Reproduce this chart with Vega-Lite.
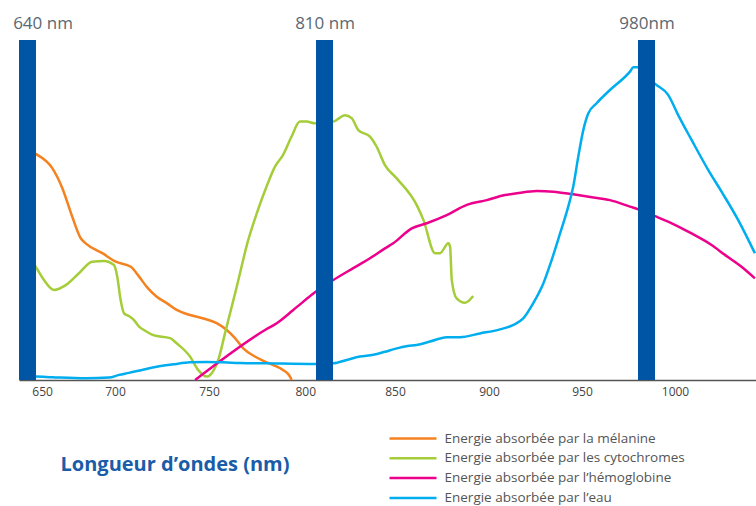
{
  "$schema": "https://vega.github.io/schema/vega-lite/v6.json",
  "width": 737,
  "height": 340,
  "autosize": {"type": "none"},
  "padding": {"left": 19, "top": 40, "right": 0, "bottom": 126},
  "background": "white",
  "config": {"view": {"stroke": null}, "font": "Open Sans"},
  "layer": [
    {
      "data": {
        "values": [
          {"serie": "la mélanine", "nm": 641, "val": 67.5},
          {"serie": "la mélanine", "nm": 645.6, "val": 66.5},
          {"serie": "la mélanine", "nm": 657, "val": 62.3},
          {"serie": "la mélanine", "nm": 663.9, "val": 56.4},
          {"serie": "la mélanine", "nm": 670.7, "val": 48.0},
          {"serie": "la mélanine", "nm": 676.5, "val": 41.7},
          {"serie": "la mélanine", "nm": 679.9, "val": 40.2},
          {"serie": "la mélanine", "nm": 691.3, "val": 37.3},
          {"serie": "la mélanine", "nm": 700.4, "val": 34.8},
          {"serie": "la mélanine", "nm": 708.4, "val": 33.3},
          {"serie": "la mélanine", "nm": 712.8, "val": 30.4},
          {"serie": "la mélanine", "nm": 716.9, "val": 27.4},
          {"serie": "la mélanine", "nm": 722.2, "val": 24.5},
          {"serie": "la mélanine", "nm": 727.5, "val": 22.6},
          {"serie": "la mélanine", "nm": 732.8, "val": 20.6},
          {"serie": "la mélanine", "nm": 739.9, "val": 19.1},
          {"serie": "la mélanine", "nm": 747.0, "val": 18.1},
          {"serie": "la mélanine", "nm": 754.0, "val": 16.7},
          {"serie": "la mélanine", "nm": 759.2, "val": 14.7},
          {"serie": "la mélanine", "nm": 763.5, "val": 12.3},
          {"serie": "la mélanine", "nm": 767.8, "val": 9.3},
          {"serie": "la mélanine", "nm": 773.8, "val": 6.9},
          {"serie": "la mélanine", "nm": 779.1, "val": 5.4},
          {"serie": "la mélanine", "nm": 783.4, "val": 4.4},
          {"serie": "la mélanine", "nm": 788.6, "val": 2.9},
          {"serie": "la mélanine", "nm": 792.1, "val": 1.0},
          {"serie": "la mélanine", "nm": 792.9, "val": 0},

          {"serie": "les cytochromes", "nm": 641, "val": 36.0},
          {"serie": "les cytochromes", "nm": 645.6, "val": 33.3},
          {"serie": "les cytochromes", "nm": 651.3, "val": 29.4},
          {"serie": "les cytochromes", "nm": 658.2, "val": 26.5},
          {"serie": "les cytochromes", "nm": 666.2, "val": 27.9},
          {"serie": "les cytochromes", "nm": 675.3, "val": 31.4},
          {"serie": "les cytochromes", "nm": 684.4, "val": 34.8},
          {"serie": "les cytochromes", "nm": 692.5, "val": 35.0},
          {"serie": "les cytochromes", "nm": 699.3, "val": 33.8},
          {"serie": "les cytochromes", "nm": 701.2, "val": 30.4},
          {"serie": "les cytochromes", "nm": 703.0, "val": 23.5},
          {"serie": "les cytochromes", "nm": 704.8, "val": 19.6},
          {"serie": "les cytochromes", "nm": 707.4, "val": 18.8},
          {"serie": "les cytochromes", "nm": 710.1, "val": 17.6},
          {"serie": "les cytochromes", "nm": 712.8, "val": 15.7},
          {"serie": "les cytochromes", "nm": 715.4, "val": 14.7},
          {"serie": "les cytochromes", "nm": 720.4, "val": 13.2},
          {"serie": "les cytochromes", "nm": 729.3, "val": 12.3},
          {"serie": "les cytochromes", "nm": 732.8, "val": 10.8},
          {"serie": "les cytochromes", "nm": 739.9, "val": 6.9},
          {"serie": "les cytochromes", "nm": 744.3, "val": 2.9},
          {"serie": "les cytochromes", "nm": 748.8, "val": 1.0},
          {"serie": "les cytochromes", "nm": 751.4, "val": 2.0},
          {"serie": "les cytochromes", "nm": 754.8, "val": 5.9},
          {"serie": "les cytochromes", "nm": 758.3, "val": 13.7},
          {"serie": "les cytochromes", "nm": 764.4, "val": 27.4},
          {"serie": "les cytochromes", "nm": 770.4, "val": 41.2},
          {"serie": "les cytochromes", "nm": 774.8, "val": 49.0},
          {"serie": "les cytochromes", "nm": 779.9, "val": 56.9},
          {"serie": "les cytochromes", "nm": 784.2, "val": 62.7},
          {"serie": "les cytochromes", "nm": 788.5, "val": 66.2},
          {"serie": "les cytochromes", "nm": 792.9, "val": 71.6},
          {"serie": "les cytochromes", "nm": 797.2, "val": 76.0},
          {"serie": "les cytochromes", "nm": 800.7, "val": 76.0},
          {"serie": "les cytochromes", "nm": 805.1, "val": 75.5},
          {"serie": "les cytochromes", "nm": 815.0, "val": 76.0},
          {"serie": "les cytochromes", "nm": 821.6, "val": 77.9},
          {"serie": "les cytochromes", "nm": 825.4, "val": 77.0},
          {"serie": "les cytochromes", "nm": 829.2, "val": 73.5},
          {"serie": "les cytochromes", "nm": 835.8, "val": 71.6},
          {"serie": "les cytochromes", "nm": 839.6, "val": 68.6},
          {"serie": "les cytochromes", "nm": 844.3, "val": 63.2},
          {"serie": "les cytochromes", "nm": 850.9, "val": 59.3},
          {"serie": "les cytochromes", "nm": 861.5, "val": 51.5},
          {"serie": "les cytochromes", "nm": 865.1, "val": 47.1},
          {"serie": "les cytochromes", "nm": 871.3, "val": 37.3},
          {"serie": "les cytochromes", "nm": 873.9, "val": 37.3},
          {"serie": "les cytochromes", "nm": 878.4, "val": 40.2},
          {"serie": "les cytochromes", "nm": 879.3, "val": 39.2},
          {"serie": "les cytochromes", "nm": 880.2, "val": 29.4},
          {"serie": "les cytochromes", "nm": 882.8, "val": 24.0},
          {"serie": "les cytochromes", "nm": 887.2, "val": 22.7},
          {"serie": "les cytochromes", "nm": 891.6, "val": 24.7},

          {"serie": "l’hémoglobine", "nm": 742.6, "val": 0},
          {"serie": "l’hémoglobine", "nm": 779.1, "val": 14.7},
          {"serie": "l’hémoglobine", "nm": 785.2, "val": 16.7},
          {"serie": "l’hémoglobine", "nm": 793.8, "val": 20.6},
          {"serie": "l’hémoglobine", "nm": 805.6, "val": 26.0},
          {"serie": "l’hémoglobine", "nm": 815.0, "val": 29.4},
          {"serie": "l’hémoglobine", "nm": 826.3, "val": 32.9},
          {"serie": "l’hémoglobine", "nm": 835.8, "val": 35.8},
          {"serie": "l’hémoglobine", "nm": 844.3, "val": 38.7},
          {"serie": "l’hémoglobine", "nm": 849.0, "val": 40.2},
          {"serie": "l’hémoglobine", "nm": 858.9, "val": 44.6},
          {"serie": "l’hémoglobine", "nm": 866.9, "val": 46.1},
          {"serie": "l’hémoglobine", "nm": 877.5, "val": 48.5},
          {"serie": "l’hémoglobine", "nm": 888.2, "val": 51.5},
          {"serie": "l’hémoglobine", "nm": 898.8, "val": 52.9},
          {"serie": "l’hémoglobine", "nm": 908.6, "val": 54.4},
          {"serie": "l’hémoglobine", "nm": 914.9, "val": 54.9},
          {"serie": "l’hémoglobine", "nm": 925.6, "val": 55.6},
          {"serie": "l’hémoglobine", "nm": 934.6, "val": 55.4},
          {"serie": "l’hémoglobine", "nm": 945.3, "val": 54.6},
          {"serie": "l’hémoglobine", "nm": 955.3, "val": 53.7},
          {"serie": "l’hémoglobine", "nm": 963.0, "val": 52.9},
          {"serie": "l’hémoglobine", "nm": 972.3, "val": 51.0},
          {"serie": "l’hémoglobine", "nm": 976.2, "val": 50.2},
          {"serie": "l’hémoglobine", "nm": 986.0, "val": 48.2},
          {"serie": "l’hémoglobine", "nm": 997.7, "val": 46.1},
          {"serie": "l’hémoglobine", "nm": 1008.8, "val": 43.1},
          {"serie": "l’hémoglobine", "nm": 1019.4, "val": 39.7},
          {"serie": "l’hémoglobine", "nm": 1026.5, "val": 36.8},
          {"serie": "l’hémoglobine", "nm": 1035.3, "val": 33.3},
          {"serie": "l’hémoglobine", "nm": 1042.4, "val": 29.9},

          {"serie": "l’eau", "nm": 641, "val": 1.0},
          {"serie": "l’eau", "nm": 645.6, "val": 1.0},
          {"serie": "l’eau", "nm": 657.0, "val": 0.8},
          {"serie": "l’eau", "nm": 679.9, "val": 0.5},
          {"serie": "l’eau", "nm": 695.9, "val": 0.7},
          {"serie": "l’eau", "nm": 702.1, "val": 1.5},
          {"serie": "l’eau", "nm": 707.4, "val": 2.1},
          {"serie": "l’eau", "nm": 715.4, "val": 3.1},
          {"serie": "l’eau", "nm": 722.2, "val": 3.9},
          {"serie": "l’eau", "nm": 731.0, "val": 4.6},
          {"serie": "l’eau", "nm": 739.9, "val": 5.2},
          {"serie": "l’eau", "nm": 748.8, "val": 5.3},
          {"serie": "l’eau", "nm": 757.4, "val": 5.2},
          {"serie": "l’eau", "nm": 766.1, "val": 5.0},
          {"serie": "l’eau", "nm": 779.1, "val": 4.9},
          {"serie": "l’eau", "nm": 805.1, "val": 4.7},
          {"serie": "l’eau", "nm": 815.0, "val": 4.9},
          {"serie": "l’eau", "nm": 822.6, "val": 5.9},
          {"serie": "l’eau", "nm": 830.1, "val": 6.9},
          {"serie": "l’eau", "nm": 837.7, "val": 7.4},
          {"serie": "l’eau", "nm": 844.3, "val": 8.3},
          {"serie": "l’eau", "nm": 849.0, "val": 9.0},
          {"serie": "l’eau", "nm": 856.6, "val": 10.0},
          {"serie": "l’eau", "nm": 861.5, "val": 10.3},
          {"serie": "l’eau", "nm": 868.6, "val": 11.3},
          {"serie": "l’eau", "nm": 877.5, "val": 12.6},
          {"serie": "l’eau", "nm": 884.6, "val": 12.6},
          {"serie": "l’eau", "nm": 895.2, "val": 13.7},
          {"serie": "l’eau", "nm": 905.9, "val": 14.9},
          {"serie": "l’eau", "nm": 913.1, "val": 16.2},
          {"serie": "l’eau", "nm": 918.4, "val": 18.1},
          {"serie": "l’eau", "nm": 923.8, "val": 22.6},
          {"serie": "l’eau", "nm": 929.2, "val": 28.4},
          {"serie": "l’eau", "nm": 933.7, "val": 35.3},
          {"serie": "l’eau", "nm": 938.2, "val": 43.1},
          {"serie": "l’eau", "nm": 942.6, "val": 51.0},
          {"serie": "l’eau", "nm": 945.3, "val": 56.9},
          {"serie": "l’eau", "nm": 948.0, "val": 65.7},
          {"serie": "l’eau", "nm": 950.6, "val": 73.5},
          {"serie": "l’eau", "nm": 952.9, "val": 78.4},
          {"serie": "l’eau", "nm": 956.8, "val": 81.4},
          {"serie": "l’eau", "nm": 963.0, "val": 85.3},
          {"serie": "l’eau", "nm": 972.3, "val": 90.7},
          {"serie": "l’eau", "nm": 973.9, "val": 92.0},
          {"serie": "l’eau", "nm": 976.2, "val": 92.0},
          {"serie": "l’eau", "nm": 986.0, "val": 87.1},
          {"serie": "l’eau", "nm": 995.3, "val": 83.8},
          {"serie": "l’eau", "nm": 1001.7, "val": 77.9},
          {"serie": "l’eau", "nm": 1008.8, "val": 70.6},
          {"serie": "l’eau", "nm": 1017.6, "val": 61.8},
          {"serie": "l’eau", "nm": 1024.7, "val": 55.4},
          {"serie": "l’eau", "nm": 1033.5, "val": 47.1},
          {"serie": "l’eau", "nm": 1042.4, "val": 37.3}
        ]
      },
      "mark": {"type": "line", "interpolate": "monotone", "strokeWidth": 2.5},
      "encoding": {
        "x": {
          "field": "nm",
          "type": "quantitative",
          "scale": {
            "domain": [634.5, 640, 700, 750, 810, 850, 900, 950, 980, 1000, 1043],
            "range": [0, 8.5, 96, 190, 305.5, 376, 470, 563, 627.5, 656, 737],
            "nice": false,
            "zero": false
          },
          "axis": {
            "orient": "bottom",
            "values": [650, 700, 750, 800, 850, 900, 950, 1000],
            "format": "d",
            "title": "Longueur d’ondes (nm)",
            "titleFont": "Open Sans",
            "titleFontSize": 20,
            "titleFontWeight": "bold",
            "titleColor": "#1a5ca8",
            "titleX": 41,
            "titleY": 84,
            "titleAlign": "left",
            "titleAnchor": "start",
            "titleBaseline": "middle",
            "grid": false,
            "ticks": false,
            "tickSize": 0,
            "labelPadding": 6,
            "labelFont": "Open Sans",
            "labelFontSize": 12,
            "labelColor": "#444444",
            "labelFlush": false,
            "domainColor": "#555555",
            "domainWidth": 1.5
          }
        },
        "y": {
          "field": "val",
          "type": "quantitative",
          "scale": {"domain": [0, 100], "nice": false},
          "axis": null
        },
        "color": {
          "field": "serie",
          "type": "nominal",
          "scale": {
            "domain": ["la mélanine", "les cytochromes", "l’hémoglobine", "l’eau"],
            "range": ["#f58220", "#a4cd39", "#ec008c", "#00aeef"]
          },
          "legend": {
            "title": null,
            "orient": "none",
            "legendX": 382.5,
            "legendY": 387,
            "padding": 0,
            "symbolType": "M-2.35,0H2.35",
            "symbolSize": 400,
            "symbolStrokeWidth": 2.5,
            "labelFont": "Open Sans",
            "labelFontSize": 13.5,
            "labelColor": "#555555",
            "labelOffset": 20,
            "labelLimit": 400,
            "rowPadding": 1.8,
            "labelExpr": "'Energie absorbée par ' + datum.label"
          }
        }
      }
    },
    {
      "data": {"values": [{"nm": 640}, {"nm": 810}, {"nm": 980}]},
      "mark": {"type": "rule", "strokeWidth": 17, "color": "#0055a5"},
      "encoding": {
        "x": {
          "field": "nm",
          "type": "quantitative",
          "scale": {
            "domain": [634.5, 640, 700, 750, 810, 850, 900, 950, 980, 1000, 1043],
            "range": [0, 8.5, 96, 190, 305.5, 376, 470, 563, 627.5, 656, 737],
            "nice": false,
            "zero": false
          },
          "axis": {
            "orient": "top",
            "values": [640, 810, 980],
            "labelExpr": "datum.value == 980 ? '980nm' : datum.value + ' nm'",
            "title": null,
            "domain": false,
            "ticks": false,
            "tickSize": 0,
            "grid": false,
            "labelFont": "Open Sans",
            "labelFontSize": 17,
            "labelColor": "#5a6872",
            "labelBaseline": "alphabetic",
            "labelPadding": 12,
            "labelFlush": false,
            "labelOffset": {"condition": {"test": "datum.value == 640", "value": 15}, "value": 0}
          }
        }
      }
    }
  ],
  "resolve": {"axis": {"x": "independent"}}
}
